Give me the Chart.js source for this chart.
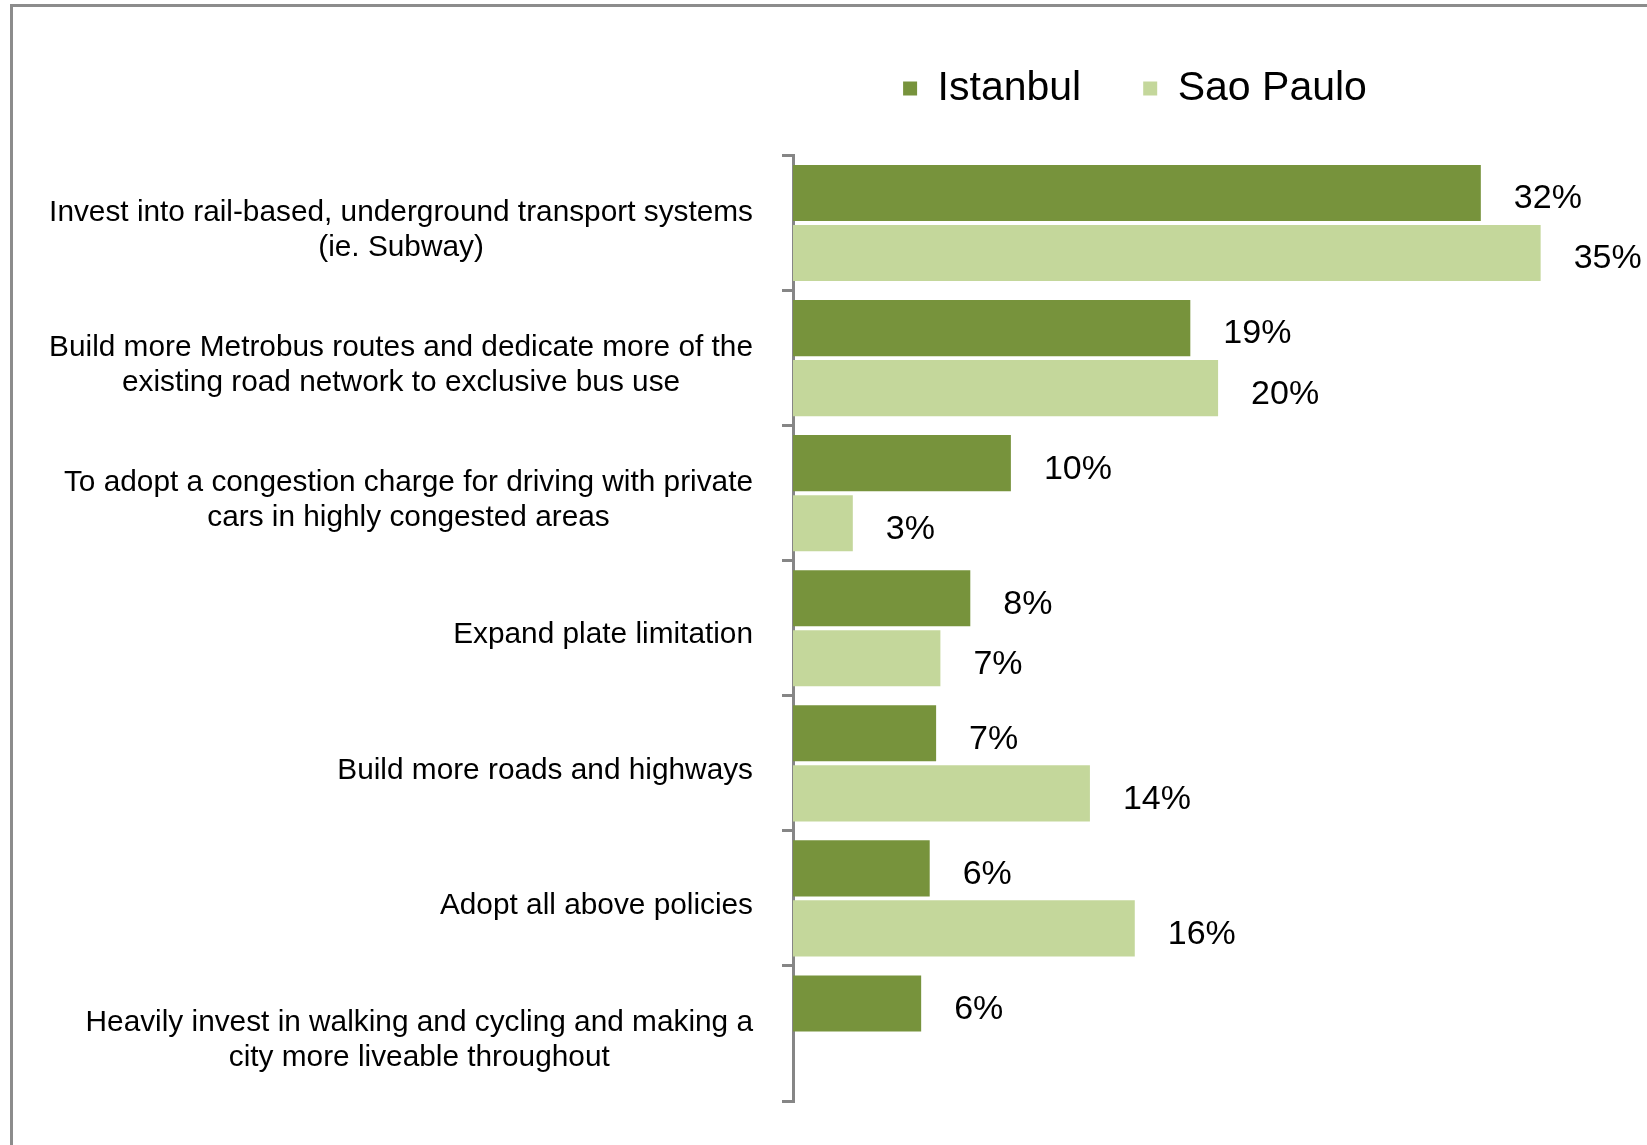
<!DOCTYPE html>
<html>
<head>
<meta charset="utf-8">
<script src="https://cdn.jsdelivr.net/npm/chart.js@4/dist/chart.umd.min.js"></script>
<style>
  html, body { margin: 0; padding: 0; background: #ffffff; }
  #wrap { position: relative; width: 1647px; height: 1145px; overflow: hidden; }
  #frame { position: absolute; left: 10px; top: 4px; width: 2000px; height: 2000px;
           border-left: 3px solid #8c8c8c; border-top: 3px solid #8c8c8c; box-sizing: border-box; }
  #c { position: absolute; left: 0; top: 0; }
</style>
</head>
<body>
<div id="wrap">
  <div id="frame"></div>
  <canvas id="c" width="1647" height="1145"></canvas>
</div>
<script>
// ---- data ----
const categories = [
  ["Invest into rail-based, underground transport systems", "(ie. Subway)"],
  ["Build more Metrobus routes and dedicate more of the", "existing road network to exclusive bus use"],
  ["To adopt a congestion charge for driving with private", "cars in highly congested areas"],
  ["Expand plate limitation"],
  ["Build more roads and highways"],
  ["Adopt all above policies"],
  ["Heavily invest in walking and cycling and making a", "city more liveable throughout"]
];
const seriesNames = ["Istanbul", "Sao Paulo"];
const istanbul = [32.2, 18.6, 10.2, 8.3, 6.7, 6.4, 6.0];
const saoPaulo = [35.0, 19.9, 2.8, 6.9, 13.9, 16.0, null];
const xMin = 0;
const xMax = 36;

// ---- styling ----
const colors = ["#77933C", "#C4D79B"];
const axisGray = "#868686";
const FONT = '"Liberation Sans", Arial, sans-serif';

// custom value labels at the end of bars
const valueLabels = {
  id: 'valueLabels',
  afterDatasetsDraw(chart) {
    const ctx = chart.ctx;
    ctx.save();
    ctx.font = '34px ' + FONT;
    ctx.fillStyle = '#000000';
    ctx.textAlign = 'left';
    ctx.textBaseline = 'middle';
    chart.data.datasets.forEach((ds, di) => {
      const meta = chart.getDatasetMeta(di);
      meta.data.forEach((bar, i) => {
        const v = ds.data[i];
        if (v === null || v === undefined) return;
        ctx.fillText(Math.round(v) + '%', bar.x + 33, bar.y + 6);
      });
    });
    ctx.restore();
  }
};

// category labels: block right-aligned, lines centred within the block
const categoryLabels = {
  id: 'categoryLabels',
  afterDraw(chart) {
    const ctx = chart.ctx;
    const yScale = chart.scales.y;
    const rightEdge = chart.chartArea.left - 40;
    const lineH = 35;
    ctx.save();
    ctx.font = '29.8px ' + FONT;
    ctx.fillStyle = '#000000';
    ctx.textAlign = 'center';
    ctx.textBaseline = 'middle';
    categories.forEach((lines, i) => {
      const yc = yScale.getPixelForValue(i) + 7;
      const widest = Math.max(...lines.map(l => ctx.measureText(l).width));
      const cx = rightEdge - widest / 2;
      lines.forEach((l, j) => {
        ctx.fillText(l, cx, yc + (j - (lines.length - 1) / 2) * lineH);
      });
    });
    ctx.restore();
  }
};

const PAD_LEFT = 708;
const PLOT_LEFT = 793;

new Chart(document.getElementById('c'), {
  type: 'bar',
  data: {
    labels: categories.map(l => l.join(' ')),
    datasets: [
      { label: seriesNames[0], data: istanbul, backgroundColor: colors[0], borderWidth: 0,
        barPercentage: 0.934, categoryPercentage: 0.889 },
      { label: seriesNames[1], data: saoPaulo, backgroundColor: colors[1], borderWidth: 0,
        barPercentage: 0.934, categoryPercentage: 0.889 }
    ]
  },
  options: {
    indexAxis: 'y',
    responsive: false,
    animation: false,
    layout: { padding: { left: PAD_LEFT, right: 85, top: 0, bottom: 44 } },
    plugins: {
      legend: {
        display: true,
        position: 'top',
        align: 'center',
        title: { display: true, text: '', padding: 0, font: { size: 6, lineHeight: 1 } },
        labels: {
          boxWidth: 14,
          boxHeight: 14,
          padding: 62,
          color: '#000000',
          font: { family: FONT, size: 41 }
        }
      },
      tooltip: { enabled: false },
      title: { display: false }
    },
    scales: {
      x: {
        type: 'linear',
        position: 'top',
        min: xMin,
        max: xMax,
        display: true,
        grid: { display: false, drawTicks: false },
        border: { display: false },
        ticks: { display: false },
        afterFit(s) { s.height = 36.5; }
      },
      y: {
        type: 'category',
        offset: true,
        grid: {
          offset: true,
          drawOnChartArea: false,
          drawTicks: true,
          tickLength: 11,
          color: axisGray,
          lineWidth: 3
        },
        border: { display: true, color: axisGray, width: 3 },
        ticks: { display: false },
        afterFit(s) { s.width = PLOT_LEFT - PAD_LEFT; }
      }
    }
  },
  plugins: [valueLabels, categoryLabels]
});
</script>
</body>
</html>
